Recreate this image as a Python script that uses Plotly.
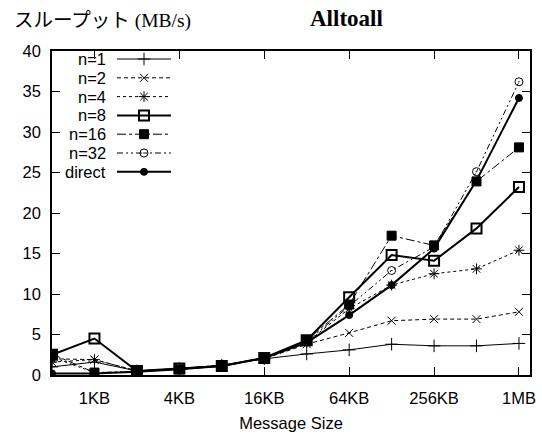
import plotly.graph_objects as go

sizes = ["512B", "1KB", "2KB", "4KB", "8KB", "16KB", "32KB", "64KB", "128KB", "256KB", "512KB", "1MB"]
tick_labels = ["1KB", "4KB", "16KB", "64KB", "256KB", "1MB"]

n1 = [1.0, 1.6, 0.5, 0.8, 1.2, 2.0, 2.6, 3.1, 3.8, 3.6, 3.6, 3.9]
n2 = [2.0, 1.9, 0.5, 0.8, 1.2, 2.0, 3.8, 5.2, 6.7, 6.9, 6.9, 7.8]
n4 = [1.6, 1.9, 0.5, 0.8, 1.2, 2.1, 4.0, 8.2, 11.1, 12.5, 13.1, 15.4]
n8 = [2.5, 4.5, 0.5, 0.8, 1.1, 2.1, 4.3, 9.6, 14.8, 14.1, 18.1, 23.2]
n16 = [2.6, 0.3, 0.4, 0.7, 1.1, 2.1, 4.3, 8.7, 17.2, 16.0, 23.9, 28.1]
n32 = [2.2, 0.3, 0.4, 0.7, 1.1, 2.1, 4.1, 8.5, 12.9, 15.8, 25.1, 36.2]
direct = [0.2, 0.2, 0.4, 0.7, 1.1, 2.1, 4.0, 7.4, 11.1, 15.6, 24.0, 34.2]

names = ["n=1", "n=2", "n=4", "n=8", "n=16", "n=32", "direct"]
series = [n1, n2, n4, n8, n16, n32, direct]
dashes = ["solid", "4px,3px", "dot", "solid", "dashdot", "6px,3px,2px,3px,2px,3px", "solid"]
widths = [1, 1, 1, 2, 1, 1, 2]
symbols = ["cross-thin-open", "x-thin-open", "asterisk-open", "square-open", "square", "circle-open-dot", "circle"]
msizes = [9, 8, 9, 10, 9, 8, 7]
mline = [1, 1, 1, 2, 1, 1, 1]

FS = 16.5
xi = list(range(len(sizes)))
fig = go.Figure()
for name, ys, d, w, s, ms, ml in zip(names, series, dashes, widths, symbols, msizes, mline):
    fig.add_trace(go.Scatter(
        x=xi, y=ys, mode="lines+markers", name=name,
        line=dict(color="black", width=w, dash=d),
        marker=dict(symbol=s, size=ms, color="black", line=dict(color="black", width=ml)),
        showlegend=False, hoverinfo="skip"))

W, H = 542, 435
L, R, T, B = 52, 12, 51, 60

# custom gnuplot-style legend (text left, sample right) on an overlay axis in page-pixel units
for i, (name, d, w, s, ms, ml) in enumerate(zip(names, dashes, widths, symbols, msizes, mline)):
    fig.add_trace(go.Scatter(
        x=[117, 171], y=[i, i], mode="lines", xaxis="x2", yaxis="y2",
        line=dict(color="black", width=w, dash=d), showlegend=False, hoverinfo="skip"))
    fig.add_trace(go.Scatter(
        x=[144], y=[i], mode="markers", xaxis="x2", yaxis="y2",
        marker=dict(symbol=s, size=ms, color="black", line=dict(color="black", width=ml)),
        showlegend=False, hoverinfo="skip"))
    fig.add_annotation(x=108, y=i, xref="x2", yref="y2", text=name, showarrow=False,
                       xanchor="right", yanchor="middle",
                       font=dict(family="Liberation Sans", size=FS, color="black"))

ppu = 18.8
top_val = -(59 - T) / ppu
bot_val = top_val + (H - B - T) / ppu

fig.update_layout(
    width=W, height=H,
    margin=dict(l=L, r=R, t=T, b=B, autoexpand=False),
    paper_bgcolor="white", plot_bgcolor="white",
    font=dict(family="Liberation Sans", size=FS, color="black"),
    xaxis=dict(range=[0, 11.26], tickvals=[1, 3, 5, 7, 9, 11], ticktext=tick_labels,
               ticks="inside", ticklen=8, tickcolor="black", showline=True, linecolor="black",
               linewidth=1.5, mirror="ticks", showgrid=False, zeroline=False,
               ticklabelstandoff=7, automargin=False,
               title=dict(text="Message Size", font=dict(size=FS), standoff=12)),
    yaxis=dict(range=[0, 40], tickvals=list(range(0, 41, 5)),
               ticks="inside", ticklen=8, tickcolor="black", showline=True, linecolor="black",
               linewidth=1.5, mirror="ticks", showgrid=False, zeroline=False,
               ticklabelstandoff=6, automargin=False),
    xaxis2=dict(domain=[0, 1], range=[L, W - R], visible=False, overlaying="x", anchor="y2"),
    yaxis2=dict(domain=[0, 1], range=[bot_val, top_val], visible=False, overlaying="y", anchor="x2"),
)

ty = 1 + (T - 18) / (H - T - B)
fig.add_annotation(text='<span style="font-family:Noto Sans CJK JP">スループット</span> (MB/s)',
                   x=-40 / (W - L - R), y=ty, xref="paper", yref="paper",
                   xanchor="left", yanchor="middle", showarrow=False,
                   font=dict(family="Liberation Serif", size=19.5, color="black"))
fig.add_annotation(text="<b>Alltoall</b>",
                   x=(346 - L) / (W - L - R), y=ty, xref="paper", yref="paper",
                   xanchor="center", yanchor="middle", showarrow=False,
                   font=dict(family="Liberation Serif", size=23, color="black"))

fig.write_html("out.html")
